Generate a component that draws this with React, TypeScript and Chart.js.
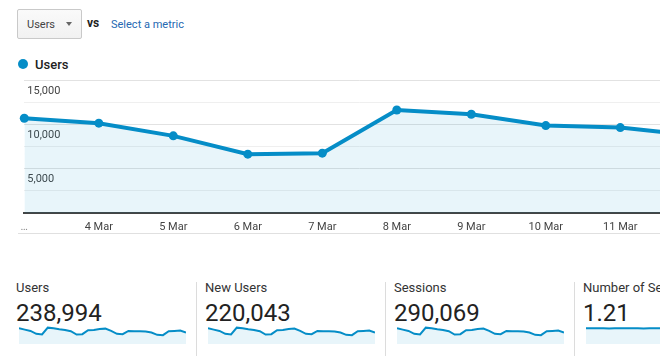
import React, { useEffect, useRef } from "react";
import { Chart, registerables } from "chart.js";

Chart.register(...registerables);

// ---- data ----
const mainLabels = ["…", "4 Mar", "5 Mar", "6 Mar", "7 Mar", "8 Mar", "9 Mar", "10 Mar", "11 Mar", "12 Mar"];
const mainUsers = [10690, 10130, 8700, 6640, 6750, 11620, 11140, 9860, 9630, 8730];
const yMax = 15000;
const yStep = 2500;

const sparkUsers = [11140, 10210, 9280, 7190, 6730, 11600, 11140, 10440, 9980, 9050, 6730, 6960, 9740, 9980, 10670, 10900, 9280, 7190, 6960, 9280, 9050, 9050, 8820, 8120, 6500, 6260, 9050, 9280, 9510, 8120];
const sparkNewUsers = [10250, 9390, 8540, 6620, 6190, 10670, 10250, 9600, 9180, 8320, 6190, 6400, 8960, 9180, 9820, 10030, 8540, 6620, 6400, 8540, 8320, 8320, 8110, 7470, 5980, 5760, 8320, 8540, 8750, 7470];
const sparkSessions = [13520, 12390, 11270, 8730, 8170, 14080, 13520, 12670, 12110, 10980, 8170, 8450, 11830, 12110, 12960, 13240, 11270, 8730, 8450, 11270, 10980, 10980, 10700, 9860, 7890, 7600, 10980, 11270, 11550, 9860];
const sparkSessPerUser = [1.21, 1.21, 1.22, 1.21, 1.2, 1.21, 1.21, 1.21, 1.22, 1.21, 1.2, 1.21, 1.21, 1.21, 1.22, 1.21, 1.21, 1.2, 1.21, 1.21, 1.21, 1.22, 1.21, 1.21, 1.2, 1.21, 1.21, 1.21, 1.22, 1.21];

const statLabels = ["Users", "New Users", "Sessions", "Number of Sessions per User"];
const statValues = ["238,994", "220,043", "290,069", "1.21"];
const statSeries = [sparkUsers, sparkNewUsers, sparkSessions, sparkSessPerUser];
const statMax = [15600, 14350, 18940, 1.7];

const BLUE = "#058dc7";
const FILL = "rgba(5,141,199,0.09)";
const FONT = "Roboto, Arial, sans-serif";

function MainChart() {
  const ref = useRef<HTMLCanvasElement>(null);
  useEffect(() => {
    if (!ref.current) return;
    const chart = new Chart(ref.current, {
      type: "line",
      data: {
        labels: mainLabels,
        datasets: [
          {
            data: mainUsers,
            borderColor: BLUE,
            borderWidth: 4,
            pointRadius: 4.5,
            pointHoverRadius: 4.5,
            pointBackgroundColor: BLUE,
            pointBorderWidth: 0,
            fill: "origin",
            backgroundColor: FILL,
            tension: 0,
            clip: false as any,
          },
        ],
      },
      options: {
        responsive: false,
        animation: false,
        layout: { padding: { left: 24.3, right: 22.5, top: 10, bottom: 0 } },
        plugins: { legend: { display: false }, tooltip: { enabled: false } },
        scales: {
          x: {
            type: "category",
            offset: false,
            grid: { display: false, drawTicks: false },
            border: { display: true, color: "#444", width: 2 },
            ticks: {
              autoSkip: false,
              maxRotation: 0,
              padding: 8,
              font: { family: FONT, size: 11 },
              color: (ctx: any) => (ctx.index === 0 ? "#888" : "#444"),
            },
            afterFit: (s: any) => {
              s.height = 25;
            },
          },
          y: {
            min: 0,
            max: yMax,
            grid: {
              drawTicks: false,
              color: (ctx: any) =>
                ctx.tick.value === 0 ? "rgba(0,0,0,0)" : ctx.tick.value % 5000 === 0 ? "#e2e2e2" : "#efefef",
            },
            border: { display: false },
            ticks: { stepSize: yStep, display: false },
            afterFit: (s: any) => {
              s.width = 0;
            },
          },
          yLabels: {
            position: "left",
            min: 0,
            max: yMax,
            z: 1,
            grid: { display: false, drawTicks: false },
            border: { display: false },
            ticks: {
              stepSize: yStep,
              mirror: true,
              padding: 3,
              labelOffset: 11,
              autoSkip: false,
              font: { family: FONT, size: 11 },
              color: "#444",
              callback: (v: any) => (v > 0 && v % 5000 === 0 ? Number(v).toLocaleString("en-US") : ""),
            },
            afterFit: (s: any) => {
              s.width = 0;
            },
          },
        },
      } as any,
    });
    return () => chart.destroy();
  }, []);
  return (
    <canvas
      ref={ref}
      width={720}
      height={168}
      style={{ position: "absolute", left: 0, top: 70, width: 720, height: 168 }}
    />
  );
}

function Spark({ data, max, left }: { data: number[]; max: number; left: number }) {
  const ref = useRef<HTMLCanvasElement>(null);
  useEffect(() => {
    if (!ref.current) return;
    const chart = new Chart(ref.current, {
      type: "line",
      data: {
        labels: data.map((_, i) => String(i)),
        datasets: [
          {
            data,
            borderColor: BLUE,
            borderWidth: 2,
            pointRadius: 0,
            fill: "origin",
            backgroundColor: FILL,
            tension: 0,
            clip: false as any,
          },
        ],
      },
      options: {
        responsive: false,
        animation: false,
        layout: { padding: 0 },
        plugins: { legend: { display: false }, tooltip: { enabled: false } },
        scales: {
          x: { type: "category", offset: false, display: false },
          y: { display: false, min: 0, max },
        },
      } as any,
    });
    return () => chart.destroy();
  }, []);
  return (
    <canvas
      ref={ref}
      width={167}
      height={22}
      style={{ position: "absolute", left, top: 322, width: 167, height: 22 }}
    />
  );
}

export default function App() {
  return (
    <div
      style={{
        position: "absolute",
        left: 0,
        top: 0,
        width: 660,
        height: 362,
        overflow: "hidden",
        background: "#fff",
        fontFamily: FONT,
      }}
    >
      {/* metric dropdown */}
      <div
        style={{
          position: "absolute",
          left: 17,
          top: 9,
          width: 63,
          height: 28,
          border: "1px solid #c9c9c9",
          borderRadius: 2,
          background: "linear-gradient(#fafafa, #f1f1f1)",
          boxSizing: "content-box",
        }}
      />
      <div style={{ position: "absolute", left: 27, top: 19, fontSize: 11, lineHeight: "11px", color: "#444" }}>Users</div>
      <div
        style={{
          position: "absolute",
          left: 66,
          top: 22,
          width: 0,
          height: 0,
          borderLeft: "3px solid transparent",
          borderRight: "3px solid transparent",
          borderTop: "4px solid #666",
        }}
      />
      <div style={{ position: "absolute", left: 87, top: 17, fontSize: 12, lineHeight: "12px", fontWeight: 700, color: "#222" }}>vs</div>
      <div style={{ position: "absolute", left: 111, top: 19, fontSize: 11, lineHeight: "11px", color: "#2468b2" }}>Select a metric</div>

      {/* legend */}
      <div
        style={{
          position: "absolute",
          left: 17.5,
          top: 58.5,
          width: 10,
          height: 10,
          borderRadius: "50%",
          background: BLUE,
        }}
      />
      <div style={{ position: "absolute", left: 35, top: 57.5, fontSize: 13, lineHeight: "13px", fontWeight: 500, color: "#222" }}>Users</div>

      <MainChart />
      <div style={{ position: "absolute", left: 18, top: 233, width: 660, height: 1, background: "#e0e0e0" }} />

      {/* stats row */}
      {statLabels.map((lab, i) => (
        <React.Fragment key={lab}>
          <div
            style={{
              position: "absolute",
              left: 16 + 189 * i,
              top: 281,
              fontSize: 13,
              lineHeight: "13px",
              color: "#333",
              whiteSpace: "nowrap",
            }}
          >
            {lab}
          </div>
          <div
            style={{
              position: "absolute",
              left: 16 + 189 * i,
              top: 300.5,
              fontSize: 24,
              lineHeight: "24px",
              color: "#222",
              whiteSpace: "nowrap",
            }}
          >
            {statValues[i]}
          </div>
          <Spark data={statSeries[i]} max={statMax[i]} left={19 + 189 * i} />
          {i < 3 && (
            <div
              style={{
                position: "absolute",
                left: 195.5 + 189 * i,
                top: 282,
                width: 1,
                height: 74,
                background: "#dcdcdc",
              }}
            />
          )}
        </React.Fragment>
      ))}
    </div>
  );
}
